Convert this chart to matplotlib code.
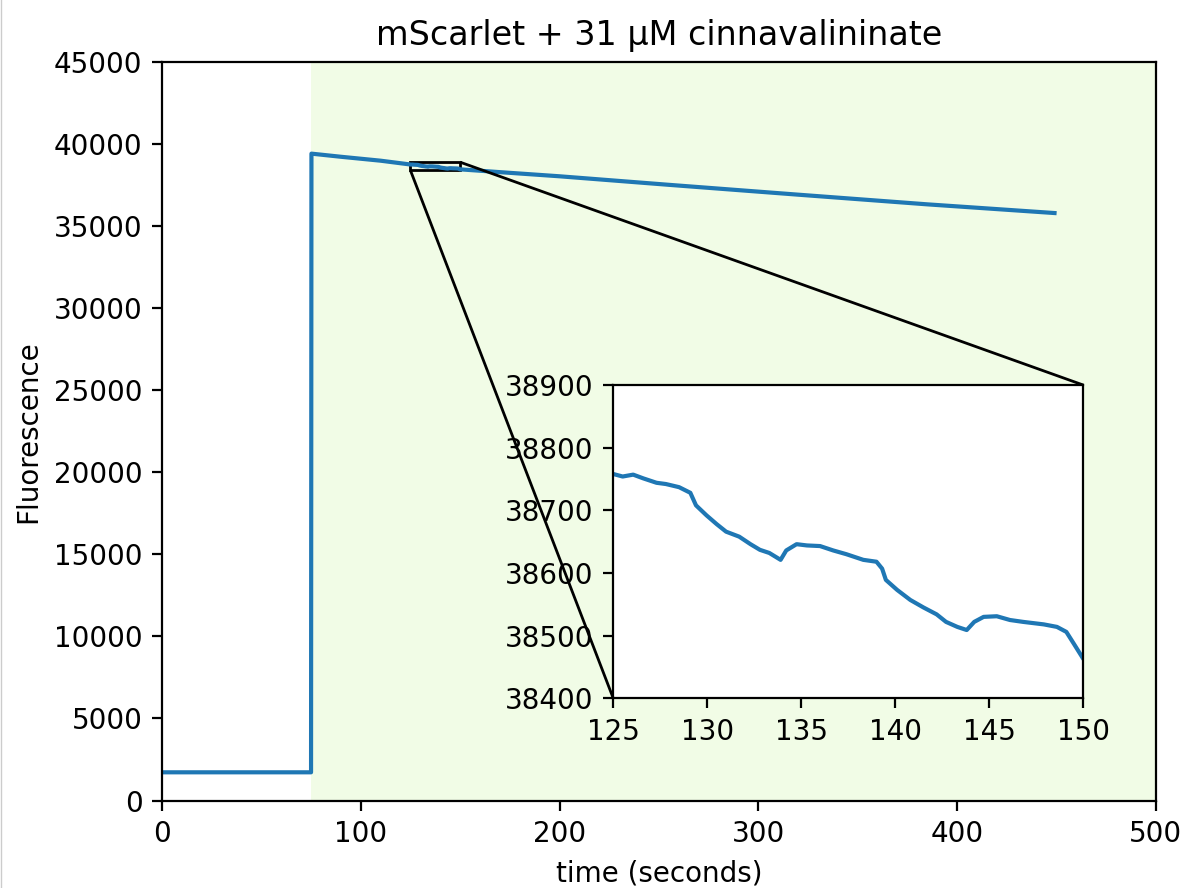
import matplotlib
matplotlib.use("Agg")
import matplotlib.pyplot as plt
from matplotlib.lines import Line2D
from mpl_toolkits.axes_grid1.inset_locator import mark_inset

# Fluorescence trace: baseline before addition, then the slow bleaching decay
time_s = [0.0, 75.0, 75.2, 90.0, 110.0,
          125.0, 125.5, 126.06, 126.6, 127.3, 127.8, 128.5, 129.1, 129.4, 129.96, 130.5,
          131.0, 131.7, 132.3, 132.8, 133.3, 133.9, 134.2, 134.75, 135.3, 136.0,
          136.7, 137.4, 138.3, 139.0, 139.3, 139.5, 140.1, 140.8, 141.5, 142.2,
          142.7, 143.3, 143.8, 144.2, 144.7, 145.4, 146.1, 146.8, 147.9, 148.6,
          149.1, 149.5, 150.0,
          175.0, 200.0, 255.0, 320.0, 385.0, 449.0]
fluorescence = [1720, 1720, 39420, 39230, 38990,
                38758, 38754, 38757, 38751, 38744, 38742, 38737, 38728, 38708, 38692, 38678,
                38666, 38658, 38646, 38637, 38632, 38621, 38636, 38646, 38644, 38643,
                38636, 38630, 38621, 38618, 38607, 38589, 38573, 38557, 38545, 38534,
                38522, 38514, 38509, 38522, 38530, 38531, 38525, 38522, 38518, 38514,
                38506, 38487, 38463,
                38250, 38040, 37520, 36920, 36330, 35800]

# Interval after the compound was added
treated_span = (75, 500)

title = "mScarlet + 31 µM cinnavalininate"
zoom_x = (125, 150)
zoom_y = (38400, 38900)

DPI = 200
fig = plt.figure(figsize=(1183 / DPI, 888 / DPI), dpi=DPI)
ax = fig.add_axes([0.1369, 0.0985, 0.8402, 0.8316])
ax.axvspan(*treated_span, color="#f1fce6", zorder=0, lw=0)
ax.plot(time_s, fluorescence, color="#1f77b4")
ax.set_xlim(0, 500)
ax.set_ylim(0, 45000)
ax.set_xlabel("time (seconds)")
ax.set_ylabel("Fluorescence")
ax.set_title(title)

axins = fig.add_axes([0.5184, 0.2136, 0.3973, 0.3528])
axins.plot(time_s, fluorescence, color="#1f77b4")
axins.set_xlim(*zoom_x)
axins.set_ylim(*zoom_y)
axins.set_xticks(range(125, 151, 5))
axins.set_yticks(range(38400, 38901, 100))
mark_inset(ax, axins, loc1=1, loc2=3, fc="none", ec="black")

# thin frame line along the left edge
fig.add_artist(Line2D([0.0006, 0.0006], [0, 1], transform=fig.transFigure,
                      color="#cccccc", lw=0.5))

fig.savefig("out.png", dpi=DPI)
